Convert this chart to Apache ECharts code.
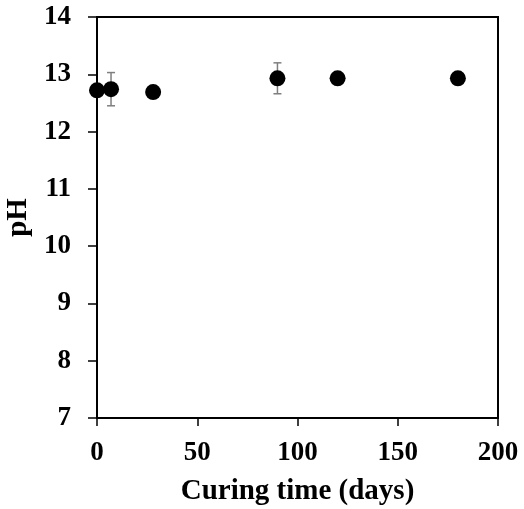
<!DOCTYPE html>
<html>
<head>
<meta charset="utf-8">
<script src="https://cdn.jsdelivr.net/npm/echarts@6/dist/echarts.min.js"></script>
<style>
  html, body { margin: 0; padding: 0; background: #fff; }
  #chart { width: 524px; height: 509px; }
</style>
</head>
<body>
<div id="chart"></div>
<script>
// Curing time (days) and measured pH with standard deviation
const days = [0, 7, 28, 90, 120, 180];
const phValues = [12.72, 12.74, 12.69, 12.93, 12.93, 12.93];
const phError = [0, 0.29, 0, 0.27, 0, 0];

const xTicks = [0, 50, 100, 150, 200];
const yTicks = [7, 8, 9, 10, 11, 12, 13, 14];

const font = '"Liberation Serif", "Times New Roman", serif';

const points = days.map((d, i) => [d, phValues[i]]);
const bars = days.map((d, i) => [d, phValues[i] - phError[i], phValues[i] + phError[i]])
  .filter((b, i) => phError[i] > 0);

const chart = echarts.init(document.getElementById('chart'));
chart.setOption({
  animation: false,
  grid: {
    left: 97, right: 26, top: 17, bottom: 91,
    containLabel: false, outerBoundsMode: 'none',
    show: true, borderColor: '#000', borderWidth: 2, backgroundColor: 'transparent'
  },
  xAxis: {
    type: 'value',
    min: xTicks[0], max: xTicks[xTicks.length - 1], interval: 50,
    name: 'Curing time (days)',
    nameLocation: 'middle', nameGap: 59,
    nameTextStyle: { fontFamily: font, fontWeight: 'bold', fontSize: 29, color: '#000' },
    axisLine: { show: true, lineStyle: { color: '#000', width: 2 } },
    axisTick: { show: true, inside: false, length: 8, lineStyle: { color: '#000', width: 1.5 } },
    axisLabel: { margin: 22, fontFamily: font, fontWeight: 'bold', fontSize: 27, color: '#000' },
    splitLine: { show: false }
  },
  yAxis: {
    type: 'value',
    min: yTicks[0], max: yTicks[yTicks.length - 1], interval: 1,
    name: 'pH',
    nameLocation: 'middle', nameGap: 54,
    nameTextStyle: { fontFamily: font, fontWeight: 'bold', fontSize: 29, color: '#000' },
    axisLine: { show: true, lineStyle: { color: '#000', width: 2 } },
    axisTick: { show: true, inside: false, length: 9, lineStyle: { color: '#000', width: 1.5 } },
    axisLabel: { margin: 26, fontFamily: font, fontWeight: 'bold', fontSize: 27, color: '#000' },
    splitLine: { show: false }
  },
  series: [
    {
      type: 'custom',
      data: bars,
      z: 1,
      renderItem: function (params, api) {
        const x = api.value(0);
        const lo = api.coord([x, api.value(1)]);
        const hi = api.coord([x, api.value(2)]);
        const cap = 4;
        const style = { stroke: '#7f7f7f', lineWidth: 1.5 };
        return {
          type: 'group',
          children: [
            { type: 'line', shape: { x1: lo[0], y1: lo[1], x2: hi[0], y2: hi[1] }, style: style },
            { type: 'line', shape: { x1: lo[0] - cap, y1: lo[1], x2: lo[0] + cap, y2: lo[1] }, style: style },
            { type: 'line', shape: { x1: hi[0] - cap, y1: hi[1], x2: hi[0] + cap, y2: hi[1] }, style: style }
          ]
        };
      }
    },
    {
      type: 'scatter',
      data: points,
      z: 2,
      symbol: 'circle',
      symbolSize: 16,
      itemStyle: { color: '#000', opacity: 1 }
    }
  ]
});
</script>
</body>
</html>
